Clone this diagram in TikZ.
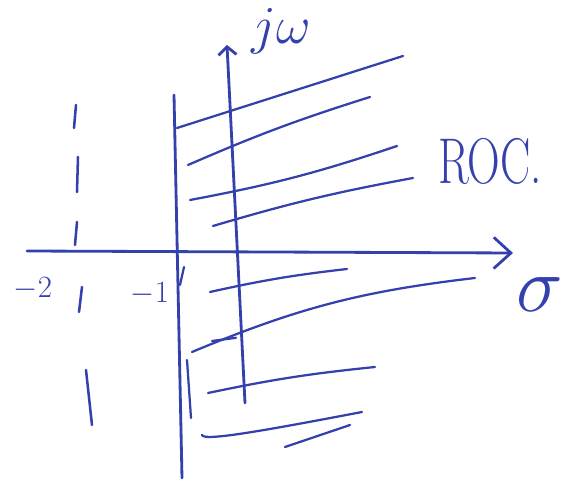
\RequirePackage{fix-cm}
\documentclass[tikz,border=0pt]{standalone}
\usepackage{amsmath, amssymb}
\usepackage{xcolor}
\usepackage{graphicx}
\usepackage{tikz}
\usetikzlibrary{arrows.meta}
\definecolor{ink}{RGB}{52,64,172}

\begin{document}
\begin{tikzpicture}[line cap=round, line join=round,
    pen/.style={ink, line width=2pt},
    hatch/.style={ink, line width=1.6pt},
    lbl/.style={ink, inner sep=0pt}]
    \useasboundingbox (-5.8,-5.675) rectangle (8.35,6.375);

    % Trục hoành sigma
    \coordinate (sL) at (-5.125,0.1);
    \coordinate (sR) at (7.025,0.05);
    \draw[pen, -{Straight Barb[length=4.3mm, width=7.8mm]}] (sL) -- (sR);
    \node[lbl, font=\fontsize{56}{56}\selectfont] (sig) at (7.7,-1.0) {$\sigma$};

    % Trục tung j omega
    \coordinate (wB) at (0.325,-3.7);
    \coordinate (wT) at (-0.125,5.25);
    \draw[pen, -{Straight Barb[length=2mm, width=4.5mm]}] (wB) -- (wT);
    \node[lbl, font=\fontsize{38}{38}\selectfont] (jw) at (1.225,5.6) {$j\omega$};

    % Biên của miền hội tụ tại -1
    \coordinate (rT) at (-1.45,4.0);
    \coordinate (rB) at (-1.25,-5.575);
    \draw[pen] (rT) -- (rB);
    \draw[hatch] (-1.2,-0.3) -- (-1.3,-0.75);
    \draw[hatch] (-1.125,-2.625) -- (-1.025,-4.075);

    % Đường nét đứt tại -2
    \foreach \xa/\ya/\xb/\yb in {-3.9/3.75/-3.95/3.175, -3.85/2.45/-3.875/1.575,
        -3.875/0.825/-3.925/0.25, -3.75/-0.8/-3.825/-1.425, -3.65/-2.875/-3.5/-4.25}
        \draw[hatch, line width=1.8pt] (\xa,\ya) -- (\xb,\yb);

    % Các điểm trên trục
    \node[lbl, font=\fontsize{22}{22}\selectfont] (m2) at (-4.975,-0.85) {$-2$};
    \node[lbl, font=\fontsize{22}{22}\selectfont] (m1) at (-2.05,-0.975) {$-1$};

    % Gạch miền hội tụ
    \draw[hatch] (-1.375,3.175) -- (4.275,4.975);
    \draw[hatch] (-1.1,2.25) to[bend left=3] (3.45,3.95);
    \draw[hatch] (-1.05,1.375) to[bend right=4] (4.125,2.725);
    \draw[hatch] (-0.475,0.725) to[bend left=3] (4.525,1.925);
    \draw[hatch] (-0.55,-0.925) to[bend left=3] (2.875,-0.35);
    \draw[hatch] (-1.0,-2.425) to[bend left=8] (6.075,-0.575);
    \draw[hatch] (-0.5,-2.15) -- (0.1,-2.07);
    \draw[hatch] (-0.6,-3.45) to[bend left=3] (3.575,-2.8);
    \draw[hatch] (-0.75,-4.5) .. controls (-0.7,-4.65) and (0.5,-4.45) .. (3.25,-3.925);
    \draw[hatch] (1.325,-4.8) -- (2.95,-4.25);
    \node[lbl, font=\fontsize{46}{46}\selectfont] (roc) at (6.45,2.35) {\scalebox{0.7}[1]{ROC.}};
\end{tikzpicture}
\end{document}
